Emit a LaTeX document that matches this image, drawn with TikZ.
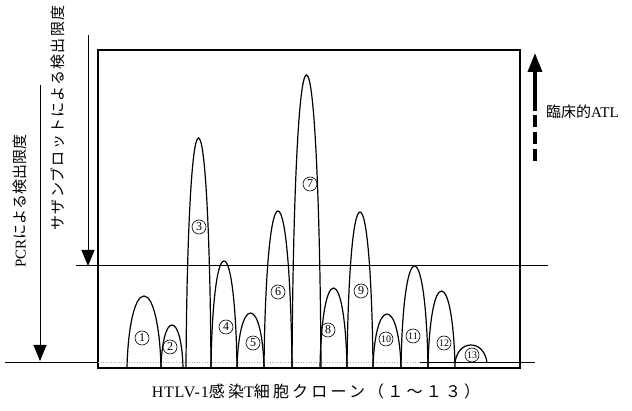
\documentclass[tikz,border=0pt]{standalone}
\usepackage{fontspec}
\setmainfont{Liberation Serif}
\newfontfamily\jp{Noto Sans CJK JP}
\usetikzlibrary{arrows.meta}
\newcommand\pk[4]{%
  \draw[peakline] (#1,#4) .. controls ({#1+0.03*(#2-#1)},{#4-0.55*(#4-#3)}) and ({(#1+#2)/2-0.28*(#2-#1)},#3) .. ({(#1+#2)/2},#3)
   .. controls ({(#1+#2)/2+0.28*(#2-#1)},#3) and ({#2-0.03*(#2-#1)},{#4-0.55*(#4-#3)}) .. (#2,#4);}
\begin{document}
\begin{tikzpicture}[x=1pt,y=-1pt,
  peakline/.style={line width=1.2pt},
  frameline/.style={line width=1.2pt},
  num/.style={circle,draw,line width=0.6pt,inner sep=0pt,minimum size=14pt,font=\fontsize{12}{12}\selectfont},
  numtwo/.style={num,font=\fontsize{10}{10}\selectfont},
  lab/.style={inner sep=0pt,font=\fontsize{15}{15}\selectfont}]
\useasboundingbox (0,0) rectangle (632,411);
% frame
\draw[frameline] (98,50) rectangle (520,368);
% detection lines
\draw[line width=1pt] (76,266) -- (548,266);
\draw[line width=1pt] (5,362.5) -- (98,362.5);
\draw[line width=1.2pt] (420,362.5) -- (535,362.5);
\draw[line width=0.6pt,gray!60,dotted] (98,362.5) -- (420,362.5);
% peaks
\pk{127}{161}{296}{367}
\pk{161}{183}{325}{367}
\pk{186}{211}{138}{367}
\pk{211}{237}{261}{367}
\pk{237}{264}{313}{367}
\pk{264}{292}{211}{367}
\pk{292}{321}{75}{367}
\pk{320}{347}{288}{367}
\pk{347}{373}{212}{367}
\pk{373}{401}{314}{367}
\pk{401}{428}{266}{367}
\pk{428}{455}{291}{367}
\pk{455}{487}{345}{363}
% labels
\node[num] (n1) at (142,338) {1};
\node[num] (n2) at (170,347) {2};
\node[num] (n3) at (199,227) {3};
\node[num] (n4) at (226,327) {4};
\node[num] (n5) at (253,343) {5};
\node[num] (n6) at (278,292) {6};
\node[num] (n7) at (310,184) {7};
\node[num] (n8) at (328,330) {8};
\node[num] (n9) at (361,291) {9};
\node[numtwo] (n10) at (386,339) {10};
\node[numtwo] (n11) at (413,336) {11};
\node[numtwo] (n12) at (444,343) {12};
\node[numtwo] (n13) at (472,355) {13};
% arrows
\coordinate (sA) at (88,35);
\coordinate (sB) at (88,266);
\draw[line width=1pt,-{Triangle[width=13pt,length=16pt]}] (sA) -- (sB);
\coordinate (pA) at (40,85);
\coordinate (pB) at (40,361);
\draw[line width=1pt,-{Triangle[width=13pt,length=16pt]}] (pA) -- (pB);
\coordinate (aA) at (535,111);
\coordinate (aB) at (535,53);
\coordinate (aD) at (535,115);
\coordinate (aC) at (535,163);
\draw[line width=3.5pt,-{Triangle[width=14pt,length=19pt]}] (aA) -- (aB);
\draw[line width=3.5pt,dash pattern=on 12pt off 5pt] (aD) -- (aC);
% texts
\node[lab,rotate=90] (tS) at (58,118) {\jp\addfontfeature{LetterSpace=8}サザンブロットによる検出限度};
\node[lab,rotate=90] (tP) at (20,201) {PCR{\jp による検出限度}};
\node[lab,anchor=west] (tA) at (546,112) {{\jp 臨床的}ATL};
\node[lab,font=\fontsize{16}{16}\selectfont] (tB) at (316,391) {\addfontfeature{LetterSpace=5}HTLV-1{\jp\addfontfeature{LetterSpace=20}感染}T{\jp\addfontfeature{LetterSpace=20}細胞クローン（１～１３）}};
\end{tikzpicture}
\end{document}
